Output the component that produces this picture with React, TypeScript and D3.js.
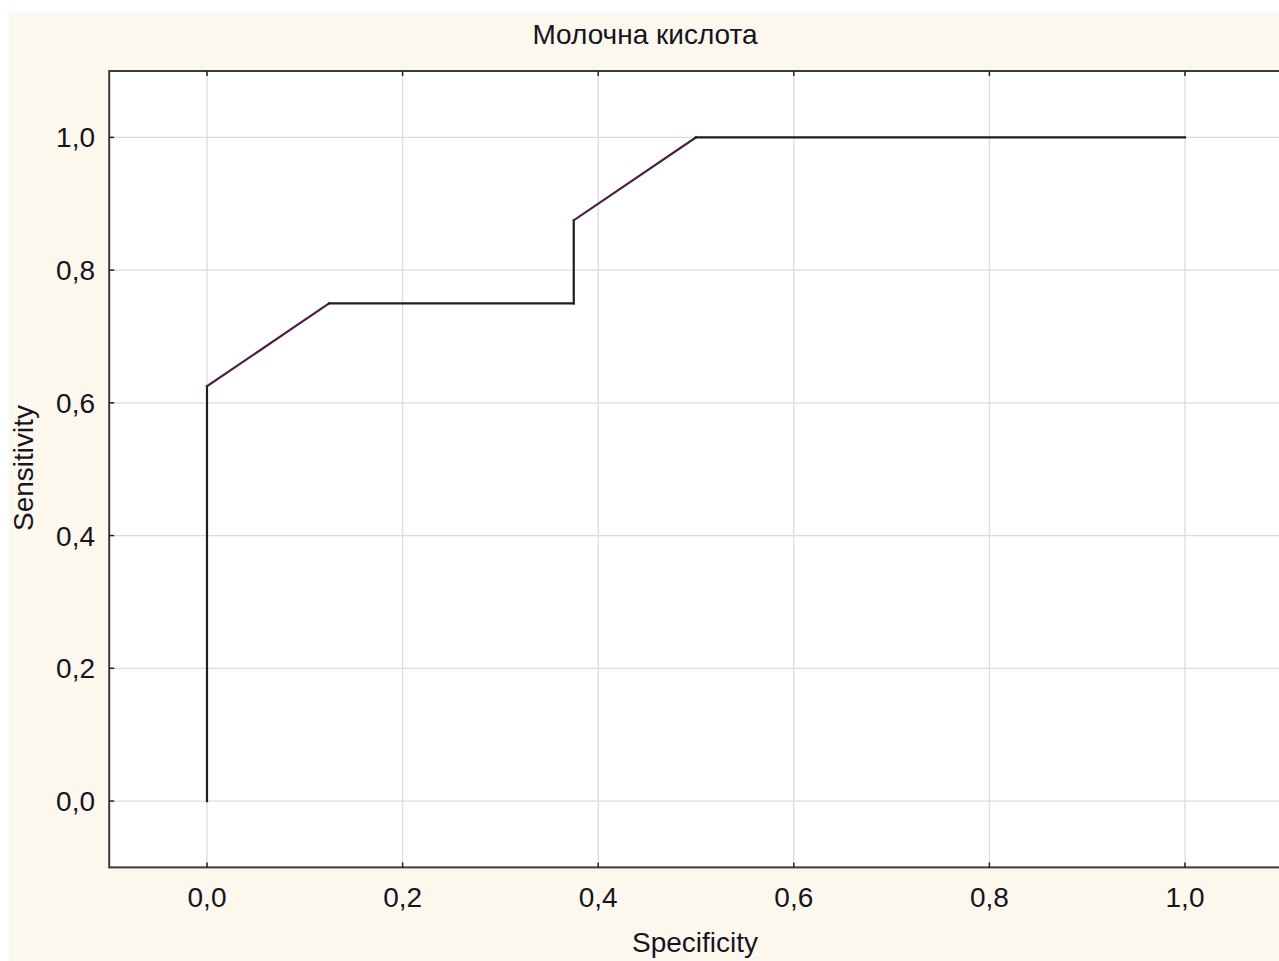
import React from "react";
import * as d3 from "d3";

const title = "Молочна кислота";
const xLabel = "Specificity";
const yLabel = "Sensitivity";
const specificity = [0, 0, 0.125, 0.375, 0.375, 0.5, 1.0];
const sensitivity = [0, 0.625, 0.75, 0.75, 0.875, 1.0, 1.0];
const xTicks = [0, 0.2, 0.4, 0.6, 0.8, 1.0];
const yTicks = [0, 0.2, 0.4, 0.6, 0.8, 1.0];

const W = 1279;
const H = 961;
const font = "'Liberation Sans', Arial, sans-serif";
const FS = 28;
const fmt = (v: number) => v.toFixed(1).replace(".", ",");

export default function App() {
  const x = d3.scaleLinear().domain([-0.1, 1.1]).range([109.2, 1282.8]);
  const y = d3.scaleLinear().domain([-0.1, 1.1]).range([867.4, 71]);
  const pts = specificity.map((s, i) => [s, sensitivity[i]] as [number, number]);
  const segs = pts.slice(1).map((p, i) => [pts[i], p]);
  const [x0, x1] = x.range();
  const [y0, y1] = y.range();
  return (
    <div style={{ position: "absolute", left: 0, top: 0 }}>
      <svg width={W} height={H} style={{ display: "block" }}>
        <rect x={0} y={0} width={W} height={H} fill="#ffffff" />
        <rect x={9} y={13} width={W - 9} height={H - 13} fill="#fdf8ee" />
        <rect x={x0} y={y1} width={x1 - x0} height={y0 - y1} fill="#ffffff" />
        {xTicks.map((t) => (
          <line key={"gx" + t} x1={x(t)} x2={x(t)} y1={y1} y2={y0} stroke="#dcdcdc" strokeWidth={1.3} />
        ))}
        {yTicks.map((t) => (
          <line key={"gy" + t} x1={x0} x2={x1} y1={y(t)} y2={y(t)} stroke="#dcdcdc" strokeWidth={1.3} />
        ))}
        {segs.map(([a, b], i) => {
          const diag = a[0] !== b[0] && a[1] !== b[1];
          return (
            <line
              key={"s" + i}
              x1={x(a[0])}
              y1={y(a[1])}
              x2={x(b[0])}
              y2={y(b[1])}
              stroke={diag ? "#4a1f4a" : "#1e1e1e"}
              strokeWidth={2.2}
              strokeLinecap="square"
            />
          );
        })}
        <rect x={x0} y={y1} width={x1 - x0} height={y0 - y1} fill="none" stroke="#3a3a3a" strokeWidth={2} />
        {xTicks.map((t) => (
          <g key={"tx" + t}>
            <line x1={x(t)} x2={x(t)} y1={y1} y2={y1 + 5} stroke="#222" strokeWidth={1.5} />
            <line x1={x(t)} x2={x(t)} y1={y0} y2={y0 - 5} stroke="#222" strokeWidth={1.5} />
            <text x={x(t)} y={907} textAnchor="middle" fontFamily={font} fontSize={FS} fill="#15151f">
              {fmt(t)}
            </text>
          </g>
        ))}
        {yTicks.map((t) => (
          <g key={"ty" + t}>
            <line x1={x0} x2={x0 + 5} y1={y(t)} y2={y(t)} stroke="#222" strokeWidth={1.5} />
            <text x={95} y={y(t) + 10} textAnchor="end" fontFamily={font} fontSize={FS} fill="#15151f">
              {fmt(t)}
            </text>
          </g>
        ))}
        <text x={645} y={44} textAnchor="middle" fontFamily={font} fontSize={FS} fill="#15151f">
          {title}
        </text>
        <text x={695} y={952} textAnchor="middle" fontFamily={font} fontSize={FS} fill="#15151f">
          {xLabel}
        </text>
        <text
          transform={`translate(33,468) rotate(-90)`}
          textAnchor="middle"
          fontFamily={font}
          fontSize={FS}
          fill="#15151f"
        >
          {yLabel}
        </text>
      </svg>
    </div>
  );
}
